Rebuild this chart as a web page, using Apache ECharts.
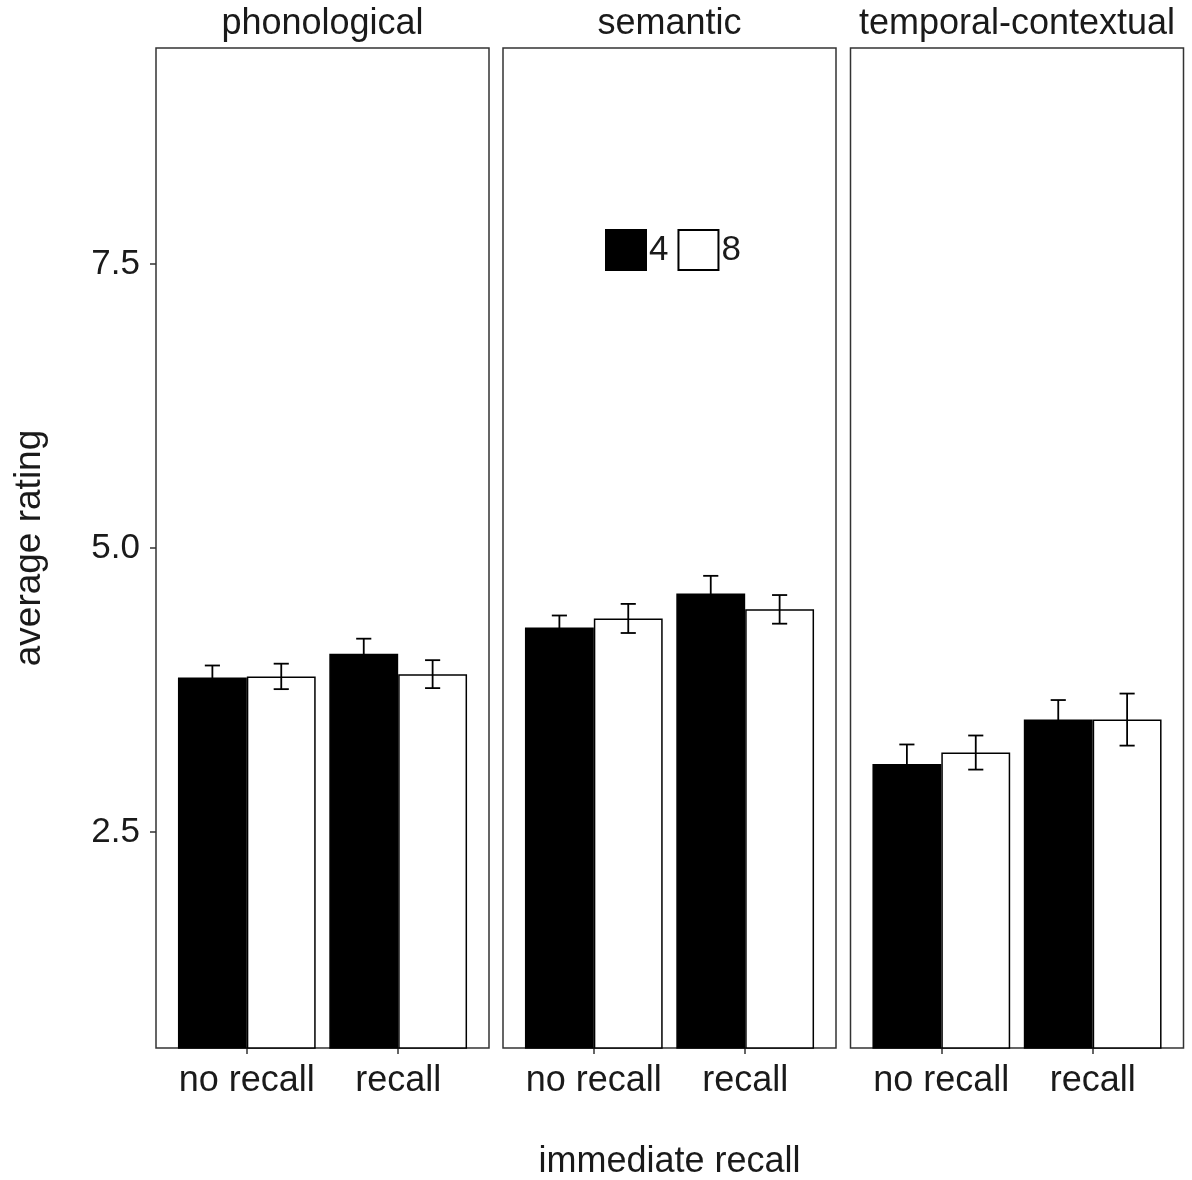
<!DOCTYPE html>
<html><head><meta charset="utf-8">
<script src="https://cdn.jsdelivr.net/npm/echarts@6/dist/echarts.min.js"></script>
<style>html,body{margin:0;padding:0;background:#fff}#c{width:1192px;height:1180px}</style>
</head><body><div id="c"></div>
<script>
// ---- data ----
const facets = ['phonological', 'semantic', 'temporal-contextual'];
const categories = ['no recall', 'recall'];
const groups = ['4', '8'];
const mean4 = [[3.86, 4.07], [4.30, 4.60], [3.10, 3.49]];
const mean8 = [[3.87, 3.89], [4.38, 4.46], [3.20, 3.49]];
const se4 = [[0.106, 0.132], [0.106, 0.155], [0.171, 0.172]];
const se8 = [[0.112, 0.123], [0.128, 0.126], [0.150, 0.229]];
const yTicks = [2.5, 5.0, 7.5];

// ---- layout / style ----
const FONT = "'Liberation Sans', Arial, sans-serif";
const FS = 36;
const TXT = '#1a1a1a';
const BORDER = '#333';
const gridLefts = [156, 503, 850.5];
const gridW = 333, gridTop = 48, gridH = 1000;
const BAR_FRAC = 0.455; // fraction of category spacing per bar

const grids = [], xAxes = [], yAxes = [], series = [], titles = [];
facets.forEach((f, i) => {
  grids.push({left: gridLefts[i], top: gridTop, width: gridW, height: gridH,
    show: true, borderColor: BORDER, borderWidth: 1.5, backgroundColor: '#fff',
    containLabel: false, outerBoundsMode: 'none'});
  xAxes.push({
    type: 'value', gridIndex: i, min: 0.4, max: 2.6,
    axisLine: {show: false}, splitLine: {show: false},
    axisTick: {show: true, customValues: [1, 2], length: 6, lineStyle: {color: BORDER, width: 1.5}},
    axisLabel: {show: true, customValues: [1, 2], margin: 15,
      formatter: v => categories[Math.round(v) - 1] || '',
      fontFamily: FONT, fontSize: FS, color: TXT},
    name: i === 1 ? 'immediate recall' : '', nameLocation: 'middle', nameGap: 96,
    nameTextStyle: {fontFamily: FONT, fontSize: FS, color: TXT}
  });
  yAxes.push({
    type: 'value', gridIndex: i, min: 0.6, max: 9.4,
    axisLine: {show: false}, splitLine: {show: false},
    axisTick: {show: i === 0, customValues: yTicks, length: 6, lineStyle: {color: BORDER, width: 1.5}},
    axisLabel: {show: i === 0, customValues: yTicks, margin: 16,
      formatter: v => v.toFixed(1), fontFamily: FONT, fontSize: FS - 1, color: TXT},
    name: i === 0 ? 'average rating' : '', nameLocation: 'middle', nameRotate: 90, nameGap: 108,
    nameTextStyle: {fontFamily: FONT, fontSize: FS + 1, color: TXT}
  });
  titles.push({text: f, left: gridLefts[i] + gridW / 2, top: 6, padding: 0,
    textAlign: 'center', textVerticalAlign: 'top',
    textStyle: {fontFamily: FONT, fontSize: FS, fontWeight: 'normal', color: TXT}});

  const means = [mean4[i], mean8[i]];
  const ses = [se4[i], se8[i]];
  groups.forEach((g, gi) => {
    series.push({
      type: 'bar', name: g, xAxisIndex: i, yAxisIndex: i,
      barWidth: (BAR_FRAC * 100) + '%', barGap: '0%',
      itemStyle: {color: gi === 0 ? '#000' : '#fff', borderColor: '#000', borderWidth: 1.5},
      emphasis: {disabled: true},
      data: means[gi].map((m, ci) => [ci + 1, m]),
      z: 2
    });
  });
  const ebData = [];
  groups.forEach((g, gi) => {
    means[gi].forEach((m, ci) => ebData.push([ci + 1, m, ses[gi][ci], gi === 0 ? -1 : 1]));
  });
  series.push({
    type: 'custom', xAxisIndex: i, yAxisIndex: i, z: 5, silent: true,
    data: ebData,
    renderItem: (params, api) => {
      const x = api.value(0) + api.value(3) * BAR_FRAC / 2;
      const m = api.value(1), se = api.value(2);
      const top = api.coord([x, m + se]);
      const bot = api.coord([x, m - se]);
      const half = api.size([0.05, 0])[0];
      const style = {stroke: '#000', lineWidth: 1.8, fill: null};
      return {type: 'group', children: [
        {type: 'line', shape: {x1: top[0], y1: top[1], x2: bot[0], y2: bot[1]}, style},
        {type: 'line', shape: {x1: top[0] - half, y1: top[1], x2: top[0] + half, y2: top[1]}, style},
        {type: 'line', shape: {x1: bot[0] - half, y1: bot[1], x2: bot[0] + half, y2: bot[1]}, style}
      ]};
    }
  });
});

const chart = echarts.init(document.getElementById('c'), null, {renderer: 'canvas'});
chart.setOption({
  animation: false,
  backgroundColor: '#fff',
  title: titles,
  grid: grids,
  xAxis: xAxes,
  yAxis: yAxes,
  legend: {
    data: groups, left: 605, top: 229, padding: 0, icon: 'rect',
    itemWidth: 40, itemHeight: 40, itemGap: 9, selectedMode: false,
    textStyle: {fontFamily: FONT, fontSize: FS - 1, color: TXT, padding: [4, 0, 0, -2]}
  },
  series: series
});
</script></body></html>
